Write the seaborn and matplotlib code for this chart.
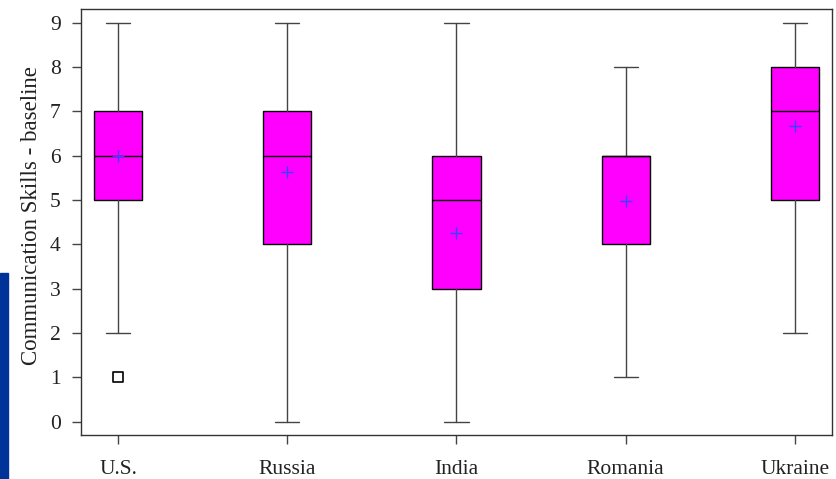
import matplotlib
matplotlib.use("Agg")
import matplotlib.pyplot as plt
import seaborn as sns
from matplotlib.patches import Rectangle

# Box summary per country
countries = ["U.S.", "Russia", "India", "Romania", "Ukraine"]
whisker_low = [2, 0, 0, 1, 2]
q1 = [5, 4, 3, 4, 5]
medians = [6, 6, 5, 6, 7]
q3 = [7, 7, 6, 6, 8]
whisker_high = [9, 9, 9, 8, 9]
means = [6.0, 5.63, 4.26, 4.98, 6.67]

# Outlying observations
outlier_country = ["U.S."]
outlier_value = [1]

y_ticks = list(range(10))
y_label = "Communication Skills - baseline"

sns.set_theme(style="ticks")
plt.rcParams["font.family"] = ["Liberation Serif", "DejaVu Serif"]

fig = plt.figure(figsize=(8.36, 4.79), dpi=100)
ax = fig.add_axes([0.0969, 0.0925, 0.8983, 0.8881])

positions = list(range(len(countries)))
stats = [
    dict(label=c, whislo=lo, q1=a, med=m, q3=b, whishi=hi, fliers=[])
    for c, lo, a, m, b, hi in zip(countries, whisker_low, q1, medians, q3, whisker_high)
]
ax.bxp(
    stats,
    positions=positions,
    widths=0.285,
    capwidths=0.142,
    patch_artist=True,
    showfliers=False,
    boxprops=dict(facecolor="#ff00ff", edgecolor="black", linewidth=1.0),
    whiskerprops=dict(color="#444444", linewidth=1.0),
    capprops=dict(color="#444444", linewidth=1.0),
    medianprops=dict(color="black", linewidth=1.0),
    zorder=2,
)

# Means as crosses
sns.scatterplot(x=positions, y=means, marker="+", s=80, color="#3344ff",
                linewidth=1.0, ax=ax, zorder=4, legend=False)

# Outliers as open squares
sns.scatterplot(x=[countries.index(c) for c in outlier_country], y=outlier_value,
                marker="s", s=55, facecolor="white", edgecolor="black",
                linewidth=1.2, ax=ax, zorder=4, legend=False)

ax.set_xlim(-0.22, 4.22)
ax.set_ylim(-0.293, 9.30)
ax.set_xticks(positions)
ax.set_xticklabels(countries)
ax.set_yticks(y_ticks)
ax.set_ylabel(y_label, fontsize=16.5, color="#222222")
ax.yaxis.set_label_coords(-0.052, 0.514)

ax.tick_params(axis="both", direction="out", length=6.5, width=1,
               color="#444444", labelsize=15.5, labelcolor="#222222")
ax.tick_params(axis="y", pad=8)
ax.tick_params(axis="x", pad=11.5)

for side in ["top", "right", "bottom", "left"]:
    ax.spines[side].set_visible(True)
    ax.spines[side].set_color("#333333")
    ax.spines[side].set_linewidth(1.0)

ax.set_facecolor("white")
fig.patch.set_facecolor("white")

# Blue accent strip on the left edge
fig.add_artist(Rectangle((0, 0), 8 / 836, (479 - 273) / 479,
                         transform=fig.transFigure, color="#003399", zorder=0))

fig.savefig("out.png", dpi=100)
